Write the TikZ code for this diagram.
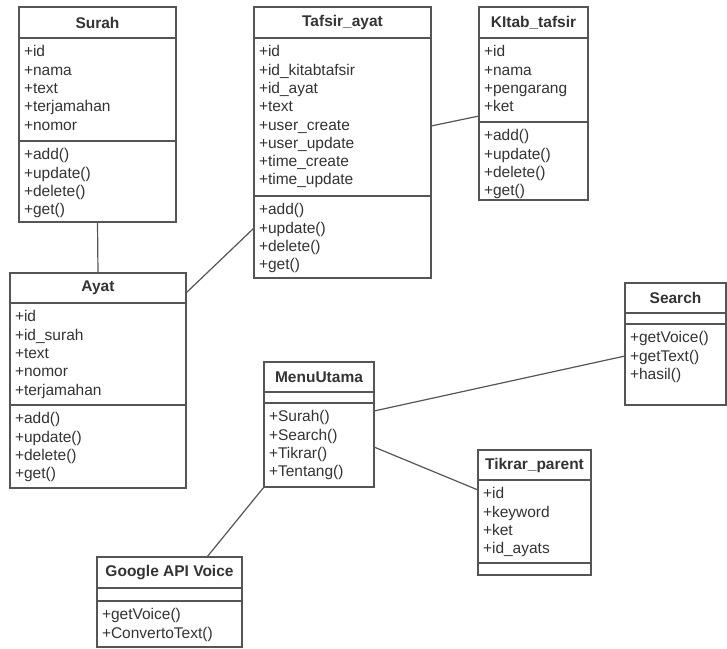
\documentclass[tikz,border=0pt]{standalone}
\usepackage{fontspec}
\setmainfont{Liberation Sans}
\definecolor{umlline}{HTML}{555555}
\definecolor{umltext}{HTML}{333333}
% compartment: width, height, lines (top aligned)
\newcommand{\compart}[3]{\parbox[c][#2][t]{#1}{\vspace{6pt}\strut #3}}
\begin{document}
\begin{tikzpicture}[x=1pt,y=-1pt]
          % Define styles
          \tikzstyle{classname} = [draw=umlline, line width=1.2pt, text=umltext, font=\fontsize{15.5}{18.3}\selectfont\bfseries, anchor=north west, inner sep=0pt, outer sep=0pt]
          \tikzstyle{members} = [draw=umlline, line width=1.2pt, text=umltext, font=\fontsize{15.5}{18.3}\selectfont, anchor=north, inner xsep=5pt, inner ysep=0pt, outer sep=0pt]
          \tikzstyle{assoc} = [umlline, line width=1.2pt]

          \useasboundingbox (0,0) rectangle (727,648);

          % Surah
          \node[classname, minimum width=157pt, minimum height=31pt] (surah) at (19,7) {Surah};
          \node[members] (surahA) at (surah.south) {\compart{147pt}{103pt}{+id\\+nama\\+text\\+terjamahan\\+nomor}};
          \node[members] (surahM) at (surahA.south) {\compart{147pt}{81pt}{+add()\\+update()\\+delete()\\+get()}};

          % Tafsir_ayat
          \node[classname, minimum width=177pt, minimum height=31pt] (tafsir) at (254,7) {Tafsir\_ayat};
          \node[members] (tafsirA) at (tafsir.south) {\compart{167pt}{158pt}{+id\\+id\_kitabtafsir\\+id\_ayat\\+text\\+user\_create\\+user\_update\\+time\_create\\+time\_update}};
          \node[members] (tafsirM) at (tafsirA.south) {\compart{167pt}{82pt}{+add()\\+update()\\+delete()\\+get()}};

          % Kitab_tafsir
          \node[classname, minimum width=109pt, minimum height=31pt] (kitab) at (479,7) {KItab\_tafsir};
          \node[members] (kitabA) at (kitab.south) {\compart{99pt}{84pt}{+id\\+nama\\+pengarang\\+ket}};
          \node[members] (kitabM) at (kitabA.south) {\compart{99pt}{78pt}{+add()\\+update()\\+delete()\\+get()}};

          % Ayat
          \node[classname, minimum width=176pt, minimum height=30pt] (ayat) at (10,273) {Ayat};
          \node[members] (ayatA) at (ayat.south) {\compart{166pt}{102pt}{+id\\+id\_surah\\+text\\+nomor\\+terjamahan}};
          \node[members] (ayatM) at (ayatA.south) {\compart{166pt}{83pt}{+add()\\+update()\\+delete()\\+get()}};

          % MenuUtama
          \node[classname, minimum width=110pt, minimum height=30pt] (menu) at (264,362) {MenuUtama};
          \node[members, minimum width=110pt, minimum height=11pt] (menuA) at (menu.south) {};
          \node[members] (menuM) at (menuA.south) {\compart{100pt}{84pt}{+Surah()\\+Search()\\+Tikrar()\\+Tentang()}};

          % Search
          \node[classname, minimum width=101pt, minimum height=30pt] (search) at (625,283) {Search};
          \node[members, minimum width=101pt, minimum height=11pt] (searchA) at (search.south) {};
          \node[members] (searchM) at (searchA.south) {\compart{91pt}{81pt}{+getVoice()\\+getText()\\+hasil()}};

          % Tikrar_parent
          \node[classname, minimum width=113pt, minimum height=30pt] (tikrar) at (478,450) {Tikrar\_parent};
          \node[members] (tikrarA) at (tikrar.south) {\compart{103pt}{83pt}{+id\\+keyword\\+ket\\+id\_ayats}};
          \node[members, minimum width=113pt, minimum height=12pt] (tikrarM) at (tikrarA.south) {};

          % Google API Voice
          \node[classname, minimum width=145pt, minimum height=31pt] (google) at (97,557) {Google API Voice};
          \node[members, minimum width=145pt, minimum height=13pt] (googleA) at (google.south) {};
          \node[members] (googleM) at (googleA.south) {\compart{135pt}{46pt}{+getVoice()\\+ConvertoText()}};

          % Associations
          \draw[assoc] (surahM.south) -- (ayat.north);
          \draw[assoc] ([yshift=-5pt]ayat.east) -- ([yshift=9pt]tafsirM.west);
          \draw[assoc] ([yshift=-9pt]tafsirA.east) -- ([yshift=6pt]kitabA.south west);
          \draw[assoc] ([yshift=34pt]menuM.east) -- ([yshift=8.5pt]searchM.west);
          \draw[assoc] ([yshift=-2pt]menuM.east) -- ([yshift=-10pt]tikrarA.north west);
          \draw[assoc] (menuM.south west) -- ([xshift=-35pt]google.north east);

     \end{tikzpicture}
\end{document}
